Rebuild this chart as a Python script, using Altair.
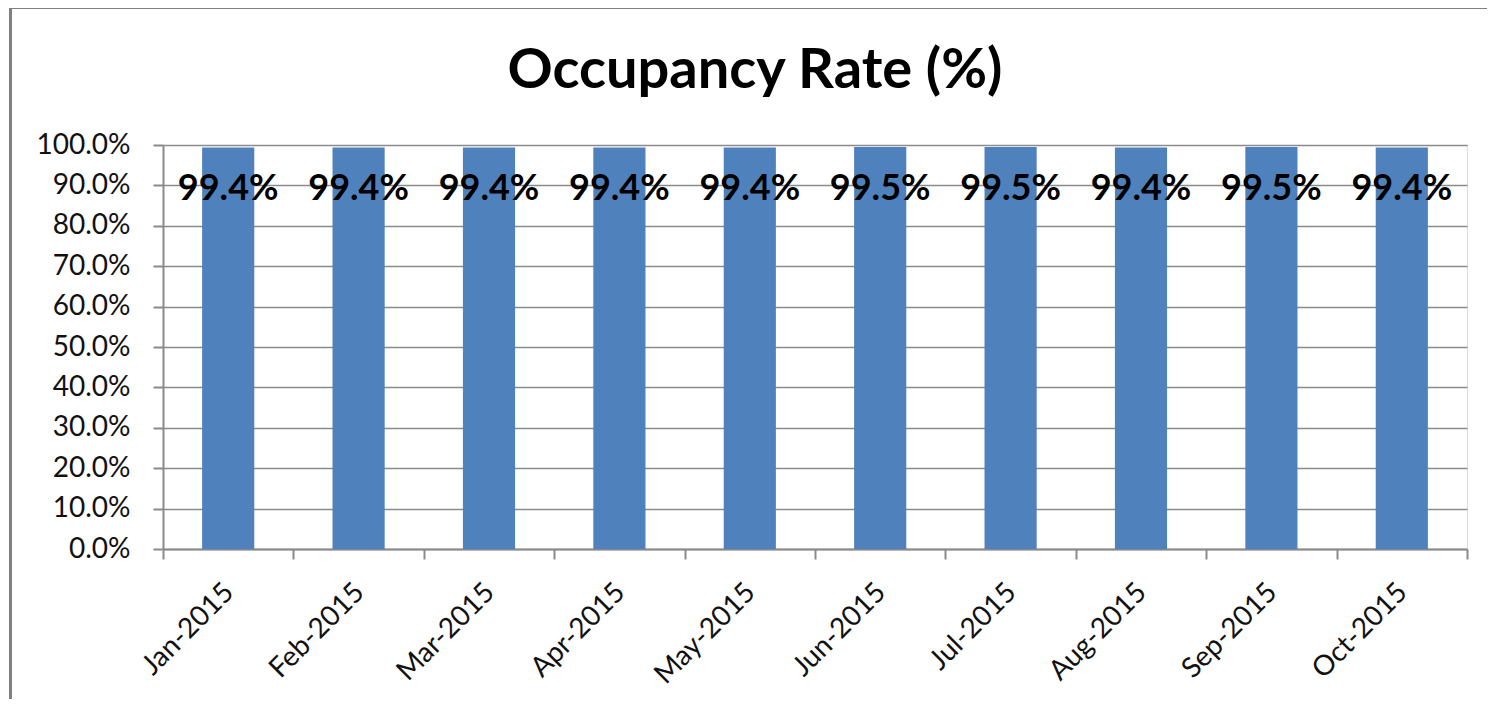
import altair as alt
import pandas as pd

months = ["Jan-2015", "Feb-2015", "Mar-2015", "Apr-2015", "May-2015",
          "Jun-2015", "Jul-2015", "Aug-2015", "Sep-2015", "Oct-2015"]
rates = [0.994, 0.994, 0.994, 0.994, 0.994, 0.995, 0.995, 0.994, 0.995, 0.994]
y_ticks = [0.0, 0.1, 0.2, 0.3, 0.4, 0.5, 0.6, 0.7, 0.8, 0.9, 1.0]

df = pd.DataFrame({"month": months, "rate": rates})

FONT = "Lato"
GRID = "#8a8a8a"

x_enc = alt.X("month:N", sort=months, title=None,
              scale=alt.Scale(paddingInner=0, paddingOuter=0),
              axis=alt.Axis(labelAngle=-45, labelFontSize=28, labelFont=FONT,
                            labelColor="#111111", tickBand="extent", tickSize=10,
                            tickColor=GRID, tickWidth=2, domainColor=GRID,
                            domainWidth=2, labelPadding=19, labelOffset=-9,
                            grid=False))
y_enc = alt.Y("rate:Q", title=None,
              scale=alt.Scale(domain=[0, 1], nice=False),
              axis=alt.Axis(values=y_ticks, format=".1%", labelFontSize=28,
                            labelFont=FONT, labelColor="#111111", tickSize=10,
                            tickColor=GRID, tickWidth=2, domainColor=GRID,
                            domainWidth=2, labelPadding=23, gridColor=GRID,
                            gridWidth=1.5))

bars = alt.Chart(df).mark_bar(color="#4F81BD",
                              width=alt.RelativeBandSize(0.4)).encode(x=x_enc, y=y_enc)

labels = alt.Chart(df).mark_text(font=FONT, fontSize=36, fontWeight="bold",
                                 color="#000000", baseline="alphabetic",
                                 align="center", dy=53).encode(
    x=alt.X("month:N", sort=months),
    y=alt.Y("rate:Q"),
    text=alt.Text("rate:Q", format=".1%"))

border_top = alt.Chart(df).mark_rule(color="#808080", strokeWidth=3).encode(
    x=alt.value(-152.5), x2=alt.value(1400), y=alt.value(-137.5))
border_left = alt.Chart(df).mark_rule(color="#808080", strokeWidth=3).encode(
    x=alt.value(-152.5), y=alt.value(-137.5), y2=alt.value(700))

chart = alt.layer(bars, labels, border_top, border_left).properties(
    width=1304, height=404,
    title=alt.TitleParams("Occupancy Rate (%)", font=FONT, fontSize=56,
                          fontWeight="bold", color="#000000", anchor="middle",
                          baseline="alphabetic", offset=-138, dx=-60),
    autosize=alt.AutoSizeParams(type="none"),
    padding={"left": 155, "top": 137, "right": 20, "bottom": 150},
).configure_view(fill="#EEECE1", stroke="transparent").configure(background="white")

chart.save("out.html", embed_options={"renderer": "svg", "actions": False})
